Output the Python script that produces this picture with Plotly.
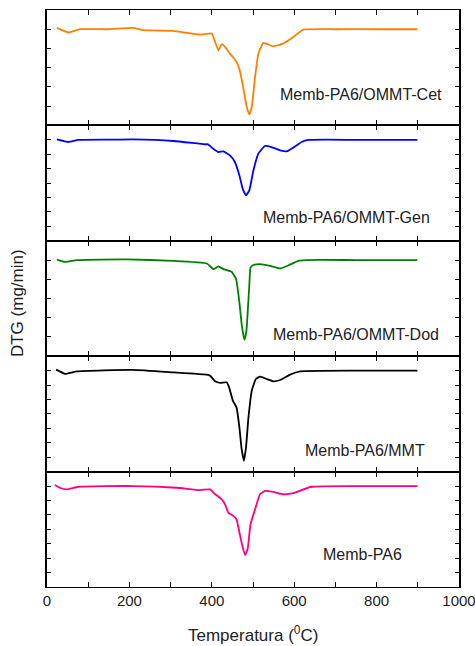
import plotly.graph_objects as go
from plotly.subplots import make_subplots

# DTG curves (temperature in degC, DTG in arbitrary mg/min units, baseline = 0)
temp_cet = [24, 52, 80, 150, 209, 234, 306, 371, 400, 405, 416, 424, 432, 444, 452, 460, 468,
            476, 485, 491, 497, 505, 513, 525, 549, 573, 598, 622, 700, 800, 899]
dtg_cet = [0.07, -0.17, 0.0, 0.0, 0.07, -0.05, -0.09, -0.28, -0.22, -0.48, -1.09, -0.78, -0.92,
           -1.27, -1.47, -1.70, -2.14, -3.00, -4.05, -4.43, -4.05, -2.48, -1.27, -0.71, -0.89,
           -0.75, -0.40, -0.02, 0.0, 0.0, 0.0]

temp_gen = [24, 52, 76, 150, 209, 307, 383, 391, 400, 416, 428, 444, 456, 467, 475, 483, 491,
            501, 513, 529, 545, 566, 582, 598, 618, 634, 750, 899]
dtg_gen = [0.03, -0.15, -0.01, 0.01, 0.03, -0.08, -0.31, -0.31, -0.54, -0.85, -0.80, -1.08,
           -1.54, -2.47, -3.39, -3.85, -3.51, -2.12, -0.96, -0.43, -0.50, -0.73, -0.80, -0.54,
           -0.15, -0.01, 0.0, 0.0]

temp_dod = [24, 44, 73, 193, 307, 388, 404, 416, 428, 448, 459, 467, 473, 479, 484, 488, 491,
            494, 501, 517, 541, 566, 586, 610, 629, 750, 899]
dtg_dod = [0.02, -0.10, 0.0, 0.03, -0.04, -0.18, -0.47, -0.33, -0.47, -0.61, -0.99, -2.21,
           -3.43, -4.15, -3.69, -2.39, -1.34, -0.39, -0.26, -0.21, -0.30, -0.44, -0.28, -0.04,
           0.0, 0.0, 0.0]

temp_mmt = [22, 31, 44, 72, 209, 307, 388, 396, 408, 420, 436, 442, 451, 460, 467, 472, 478,
            483, 489, 497, 507, 517, 533, 549, 566, 590, 614, 750, 899]
dtg_mmt = [0.07, -0.05, -0.23, -0.05, 0.05, -0.12, -0.28, -0.35, -0.74, -0.85, -0.81, -1.16,
           -2.08, -2.55, -3.94, -5.33, -6.25, -5.33, -3.24, -1.39, -0.58, -0.42, -0.58, -0.74,
           -0.65, -0.28, -0.05, 0.0, 0.0]

temp_pa6 = [19, 31, 48, 76, 209, 315, 371, 396, 408, 424, 432, 440, 452, 460, 467, 475, 481,
            487, 494, 505, 517, 529, 549, 573, 598, 642, 750, 899]
dtg_pa6 = [0.07, -0.12, -0.23, -0.05, 0.0, -0.12, -0.28, -0.23, -0.57, -0.92, -1.26, -1.84,
           -2.07, -2.30, -3.22, -4.26, -4.78, -4.37, -2.64, -1.61, -0.57, -0.34, -0.41, -0.57,
           -0.50, -0.05, 0.0, 0.0]

names = ["Memb-PA6/OMMT-Cet", "Memb-PA6/OMMT-Gen", "Memb-PA6/OMMT-Dod",
         "Memb-PA6/MMT", "Memb-PA6"]
temps = [temp_cet, temp_gen, temp_dod, temp_mmt, temp_pa6]
dtgs = [dtg_cet, dtg_gen, dtg_dod, dtg_mmt, dtg_pa6]
colors = ["#FF8000", "#0000FF", "#008000", "#000000", "#FF0080"]
y_ranges = [[-5, 1], [-7, 1], [-5, 1], [-7, 1], [-7, 1]]

# label placement (paper coordinates) for each curve
label_x = [0.763, 0.727, 0.751, 0.771, 0.765]
label_y = [0.853, 0.640, 0.438, 0.237, 0.0555]

fig = make_subplots(rows=5, cols=1, shared_xaxes=True, vertical_spacing=0)

FONT = "Liberation Sans, Arial, sans-serif"

for i in range(5):
    fig.add_trace(go.Scatter(x=temps[i], y=dtgs[i], mode="lines",
                             line=dict(color=colors[i], width=1.8, shape="spline", smoothing=0.4),
                             name=names[i], showlegend=False),
                  row=i + 1, col=1)
    fig.update_yaxes(range=y_ranges[i], dtick=1, showticklabels=False,
                     ticks="inside", ticklen=4, tickwidth=1, tickcolor="black",
                     showline=True, linecolor="black", linewidth=1.5, mirror="ticks",
                     showgrid=False, zeroline=False, automargin=False, row=i + 1, col=1)
    fig.update_xaxes(range=[0, 1000], tick0=0, dtick=200,
                     showticklabels=(i == 4), ticklabeloverflow="allow", automargin=False,
                     ticks="inside", ticklen=5, tickwidth=1, tickcolor="black",
                     minor=dict(dtick=100, ticks="inside", ticklen=5, tickwidth=1,
                                tickcolor="black", showgrid=False),
                     showline=True, linecolor="black", linewidth=1, mirror="ticks",
                     showgrid=False, zeroline=False,
                     tickfont=dict(size=15, color="#222222", family=FONT),
                     row=i + 1, col=1)
    fig.add_annotation(x=label_x[i], y=label_y[i], xref="paper", yref="paper",
                       text=names[i], showarrow=False, xanchor="center", yanchor="middle",
                       font=dict(size=16, color="#222222", family=FONT))

fig.add_annotation(x=0.5, y=-0.081, xref="paper", yref="paper",
                   text="Temperatura (<sup>0</sup>C)", showarrow=False,
                   xanchor="center", yanchor="middle",
                   font=dict(size=17, color="#222222", family=FONT))
fig.add_annotation(x=-0.073, y=0.492, xref="paper", yref="paper",
                   text="DTG (mg/min)", showarrow=False, textangle=-90,
                   xanchor="center", yanchor="middle",
                   font=dict(size=17, color="#222222", family=FONT))

fig.update_layout(width=475, height=646,
                  margin=dict(l=47, r=16, t=10, b=59),
                  paper_bgcolor="white", plot_bgcolor="white",
                  font=dict(family=FONT))

fig.write_html("out.html")
